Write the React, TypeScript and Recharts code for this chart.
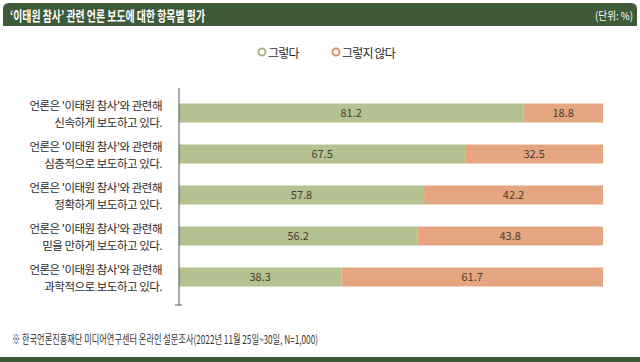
import { BarChart, Bar, XAxis, YAxis, LabelList } from 'recharts'

const LINE_1 = "언론은 '이태원 참사'와 관련해"
const ITEMS = [
  '신속하게 보도하고 있다.',
  '심층적으로 보도하고 있다.',
  '정확하게 보도하고 있다.',
  '믿을 만하게 보도하고 있다.',
  '과학적으로 보도하고 있다.',
]
const YES = [81.2, 67.5, 57.8, 56.2, 38.3]
const NO = [18.8, 32.5, 42.2, 43.8, 61.7]

const TITLE = '‘이태원 참사’ 관련 언론 보도에 대한 항목별 평가'
const UNIT = '(단위: %)'
const SOURCE = '※ 한국언론진흥재단 미디어연구센터 온라인 설문조사(2022년 11월 25일~30일, N=1,000)'
const SERIES_NAMES = ['그렇다', '그렇지 않다']

const GREEN = '#b4c190'
const ORANGE = '#e5a581'
const HEADER = '#3e5a36'
const FONT = '"Noto Sans CJK KR", "Noto Sans", sans-serif'

const data = ITEMS.map((item, i) => ({ item, yes: YES[i], no: NO[i] }))

function ItemTick({ x, y, payload }: any) {
  return (
    <g>
      <text x={x - 9} y={y - 8} textAnchor="end" dominantBaseline="central"
        fontSize={11.5} letterSpacing={-0.5} fill="#2b2b2b" fontFamily={FONT}>
        {LINE_1}
      </text>
      <text x={x - 9} y={y + 9} textAnchor="end" dominantBaseline="central"
        fontSize={11.5} letterSpacing={-0.5} fill="#2b2b2b" fontFamily={FONT}>
        {payload.value}
      </text>
    </g>
  )
}

export default function App() {
  return (
    <div style={{ position: 'absolute', left: 0, top: 0, width: 640, height: 362, background: '#fff' }}>
      <BarChart
        width={640}
        height={362}
        data={data}
        layout="vertical"
        margin={{ top: 88, right: 37, bottom: 57, left: 0 }}
        barSize={19}
      >
        <XAxis type="number" domain={[0, 100]} hide />
        <YAxis
          type="category"
          dataKey="item"
          width={179}
          padding={{ top: 4.5, bottom: 7.5 }}
          axisLine={{ stroke: '#555', strokeWidth: 1 }}
          tickLine={false}
          tick={<ItemTick />}
        />
        <Bar dataKey="yes" stackId="a" fill={GREEN} isAnimationActive={false}>
          <LabelList dataKey="yes" position="center" fill="#4a3d2c" fontSize={11} fontFamily={FONT} />
        </Bar>
        <Bar dataKey="no" stackId="a" fill={ORANGE} isAnimationActive={false}>
          <LabelList dataKey="no" position="center" fill="#4a3d2c" fontSize={11} fontFamily={FONT} />
        </Bar>
      </BarChart>
      <svg width={640} height={362} style={{ position: 'absolute', left: 0, top: 0, pointerEvents: 'none' }}>
        <path d="M3,26 L3,9 Q3,3 9,3 L631,3 Q637,3 637,9 L637,26 Z" fill={HEADER} />
        <text x={10} y={15} dominantBaseline="central" fill="#fff" fontSize={14} fontWeight={700}
          fontFamily={FONT} textLength={195} lengthAdjust="spacingAndGlyphs">{TITLE}</text>
        <text x={633} y={15} dominantBaseline="central" textAnchor="end" fill="#fff" fontSize={11}
          fontFamily={FONT} textLength={38} lengthAdjust="spacingAndGlyphs">{UNIT}</text>
        <circle cx={262} cy={52} r={3.5} fill="#fff" stroke="#a8b77c" strokeWidth={2} />
        <text x={268} y={52} dominantBaseline="central" fontSize={12} letterSpacing={-0.8} fill="#2b2b2b" fontFamily={FONT}>{SERIES_NAMES[0]}</text>
        <circle cx={336} cy={52} r={3.5} fill="#fff" stroke="#e09468" strokeWidth={2} />
        <text x={342} y={52} dominantBaseline="central" fontSize={12} letterSpacing={-0.8} fill="#2b2b2b" fontFamily={FONT}>{SERIES_NAMES[1]}</text>
        <line x1={175} x2={182} y1={305} y2={305} stroke="#555" />
        <text x={12} y={338} dominantBaseline="central" fontSize={12} fill="#333" fontFamily={FONT}
          textLength={306} lengthAdjust="spacingAndGlyphs">{SOURCE}</text>
        <rect x={0} y={357} width={640} height={5} fill={HEADER} />
      </svg>
    </div>
  )
}
